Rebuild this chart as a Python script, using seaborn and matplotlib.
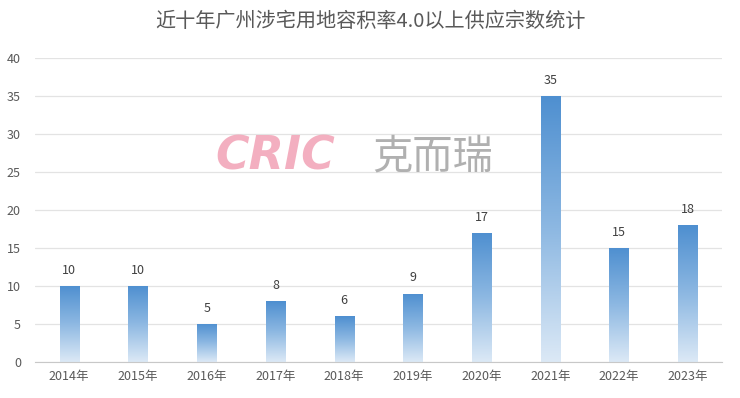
import numpy as np
import pandas as pd
import seaborn as sns
import matplotlib.pyplot as plt
from matplotlib.colors import LinearSegmentedColormap

years = ['2014年', '2015年', '2016年', '2017年', '2018年', '2019年', '2020年', '2021年', '2022年', '2023年']
counts = [10, 10, 5, 8, 6, 9, 17, 35, 15, 18]
yticks = [0, 5, 10, 15, 20, 25, 30, 35, 40]

sns.set_style('white')
plt.rcParams['font.family'] = ['Noto Sans CJK SC', 'DejaVu Sans']

df = pd.DataFrame({'year': years, 'count': counts})

fig = plt.figure(figsize=(7.4, 3.98), dpi=100)
ax = fig.add_axes([0.047, 0.0905, 0.929, 0.764])

sns.barplot(data=df, x='year', y='count', color='#5B9BD5', width=0.28, ax=ax)

# gradient fill per bar, dark at top -> pale at bottom
cmap = LinearSegmentedColormap.from_list('bluegrad', ['#DCE9F6', '#8DB8E2', '#4E8FD0'])
grad = np.linspace(0, 1, 256).reshape(-1, 1)
for p in ax.patches:
    x0, y0 = p.get_x(), p.get_y()
    w, h = p.get_width(), p.get_height()
    im = ax.imshow(grad, cmap=cmap, aspect='auto', origin='lower',
                   extent=[x0, x0 + w, y0, y0 + h], zorder=2)
    im.set_clip_path(p)
    p.set_facecolor('none')
    p.set_edgecolor('none')

for i, v in enumerate(counts):
    ax.text(i, v + 1.2, str(v), ha='center', va='bottom', fontsize=9, color='#404040')

ax.set_xlim(-0.5, len(years) - 0.5)
ax.set_ylim(0, 40)
ax.set_yticks(yticks)
ax.yaxis.grid(True, color='#E3E3E3', linewidth=0.9)
ax.set_axisbelow(True)
for s in ['top', 'right', 'left']:
    ax.spines[s].set_visible(False)
ax.spines['bottom'].set_color('#C8C8C8')
ax.tick_params(axis='both', length=0, labelsize=9, colors='#595959')
ax.tick_params(axis='y', pad=10)
ax.tick_params(axis='x', pad=6)
ax.set_xlabel('')
ax.set_ylabel('')

fig.text(0.5, 0.945, '近十年广州涉宅用地容积率4.0以上供应宗数统计', ha='center', va='center',
         fontsize=14.5, color='#595959')

# watermark
fig.text(0.372, 0.605, 'CRIC', ha='center', va='center', fontsize=33, fontweight='heavy',
         fontstyle='italic', color='#F2A7B9', alpha=0.9, family='DejaVu Sans')
fig.text(0.585, 0.605, '克而瑞', ha='center', va='center', fontsize=29,
         color='#A8A8A8', alpha=0.9)

plt.savefig('out.png', dpi=100)
